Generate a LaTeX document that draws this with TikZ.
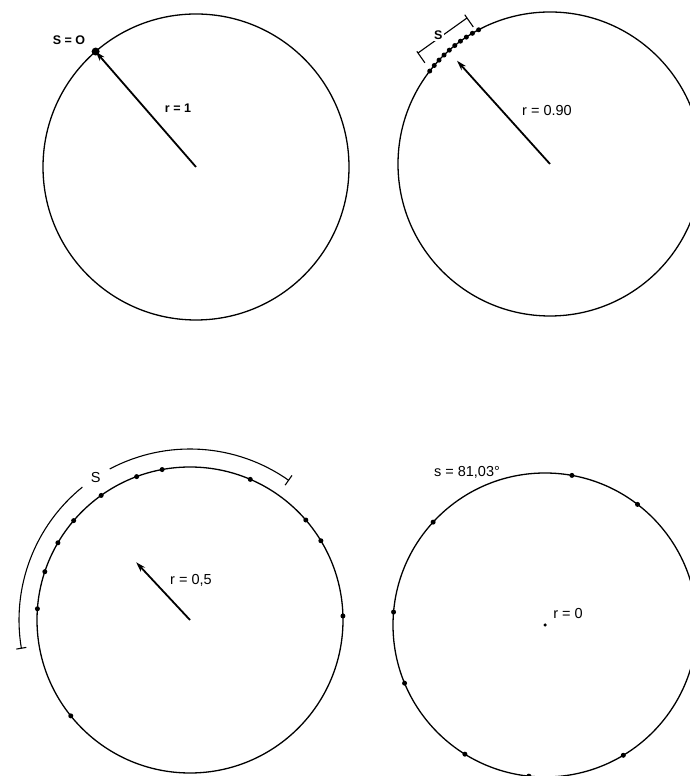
\documentclass[tikz,border=0pt]{standalone}
\usepackage{fontspec}
\setmainfont{Liberation Sans}
\usetikzlibrary{arrows.meta,calc}
\begin{document}
\begin{tikzpicture}[x=1pt,y=1pt,
  ring/.style={line width=1.3pt},
  radiusarrow/.style={line width=1.8pt,-{Stealth[length=10pt,width=6pt]}},
  dotmark/.style={circle,fill=black,inner sep=0pt,minimum size=5pt},
  lbl/.style={font=\fontsize{12.5}{14}\selectfont\bfseries,inner sep=1pt},
  biglbl/.style={font=\fontsize{14.5}{16}\selectfont,inner sep=1pt},
  bracketline/.style={line width=1.1pt}]
\useasboundingbox[fill=white] (0,0) rectangle (689,776);

% ---------- top left: r = 1 ----------
\coordinate (c1) at (196,609);
\draw[ring] (c1) circle (153);
\node[dotmark,minimum size=8pt] (p1) at ($(c1)+(131:153)$) {};
\draw[radiusarrow] (c1) -- (p1.center);
\node[lbl] (s1) at (69,736) {S = O};
\node[lbl] (r1) at (178,668) {r = 1};

% ---------- top right: r = 0.90 ----------
\coordinate (c2) at (550,612);
\draw[ring] (c2) circle (152);
\foreach \a [count=\i] in {118,120.7,123.4,126.1,128.8,131.5,134.2,136.9,139.6,142.3}
  \node[dotmark] (d2-\i) at ($(c2)+(\a:152)$) {};
\coordinate (t2) at ($(c2)+(132:139)$);
\draw[radiusarrow] (c2) -- (t2);
\coordinate (b2a) at (418,723);
\coordinate (b2b) at (467,758);
\draw[bracketline] (b2a) -- (b2b);
\draw[bracketline] ($(b2a)+(125:2)$) -- ($(b2a)+(-55:12)$);
\draw[bracketline] ($(b2b)+(125:4)$) -- ($(b2b)+(-55:11)$);
\node[lbl,fill=white,inner sep=1.5pt] (s2) at ($(b2a)!0.45!(b2b)+(125:3)$) {S};
\node[biglbl] (r2) at (547,665) {r = 0.90};

% ---------- bottom left: r = 0,5 ----------
\coordinate (c3) at (190,156);
\draw[ring] (c3) circle (153);
\foreach \a [count=\i] in {100.5,110.4,125.5,139.5,149.7,161.6,175.8,66.8,40.8,31.2,1.5,218.8}
  \node[dotmark] (d3-\i) at ($(c3)+(\a:153)$) {};
\coordinate (t3) at ($(c3)+(133:79)$);
\draw[radiusarrow] (c3) -- (t3);
\coordinate (e3a) at ($(c3)+(54.8:171)$);
\coordinate (e3b) at ($(c3)+(189.5:171)$);
\draw[bracketline] (e3a) arc[start angle=54.8, end angle=118, radius=171];
\draw[bracketline] ($(c3)+(129:171)$) arc[start angle=129, end angle=189.5, radius=171];
\draw[bracketline] ($(c3)+(54.8:165)$) -- ($(c3)+(54.8:177)$);
\draw[bracketline] ($(c3)+(189.5:166)$) -- ($(c3)+(189.5:176)$);
\node[biglbl] (s3) at ($(c3)+(123.5:171)$) {S};
\node[biglbl] (r3) at (191,196) {r = 0,5};

% ---------- bottom right: r = 0 ----------
\coordinate (c4) at (545,151);
\draw[ring] (c4) circle (152);
\foreach \a [count=\i] in {79.8,52.5,137.4,175.1,202.5,238.2,263.9,301}
  \node[dotmark] (d4-\i) at ($(c4)+(\a:152)$) {};
\node[dotmark,minimum size=3.5pt] (o4) at (c4) {};
\node[biglbl] (s4) at (467,304) {s = 81,03°};
\node[biglbl] (r4) at (568,162) {r = 0};
\end{tikzpicture}
\end{document}
